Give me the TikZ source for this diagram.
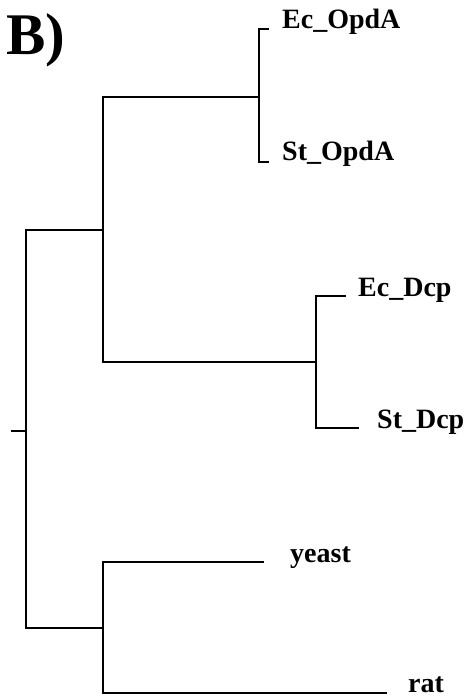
\documentclass[tikz,border=0pt]{standalone}
\usepackage{fontspec}
\setmainfont{Liberation Serif}
\begin{document}
\begin{tikzpicture}[x=1pt,y=-1pt,
  branch/.style={line width=1.2pt,line cap=rect},
  leaf/.style={anchor=base west,inner sep=0pt,font=\fontsize{28}{30}\selectfont\bfseries}]
\useasboundingbox (0,0) rectangle (466,698);
\node[anchor=base west,inner sep=0pt,font=\fontsize{59}{61}\selectfont\bfseries] (lab) at (6,55) {B)};
% internal nodes
\coordinate (tick) at (12,431);
\coordinate (root) at (26,431);
\coordinate (up) at (103,230);
\coordinate (low) at (103,628);
\coordinate (opd) at (259,97);
\coordinate (dcp) at (316,362);
% leaf ends
\coordinate (e1) at (268,29);
\coordinate (e2) at (268,162);
\coordinate (e3) at (345,296);
\coordinate (e4) at (358,428);
\coordinate (e5) at (263,562);
\coordinate (e6) at (386,693);
% labels
\node[leaf] (l1) at (282,29) {Ec\_OpdA};
\node[leaf] (l2) at (282,160) {St\_OpdA};
\node[leaf] (l3) at (358,296) {Ec\_Dcp};
\node[leaf] (l4) at (377,428) {St\_Dcp};
\node[leaf] (l5) at (290,562) {yeast};
\node[leaf] (l6) at (408,692) {rat};
% branches
\draw[branch] (tick) -- (root);
\draw[branch] (root) |- (up);
\draw[branch] (root) |- (low);
\draw[branch] (up) |- (opd);
\draw[branch] (up) |- (dcp);
\draw[branch] (opd) |- (e1);
\draw[branch] (opd) |- (e2);
\draw[branch] (dcp) |- (e3);
\draw[branch] (dcp) |- (e4);
\draw[branch] (low) |- (e5);
\draw[branch] (low) |- (e6);
\end{tikzpicture}
\end{document}
